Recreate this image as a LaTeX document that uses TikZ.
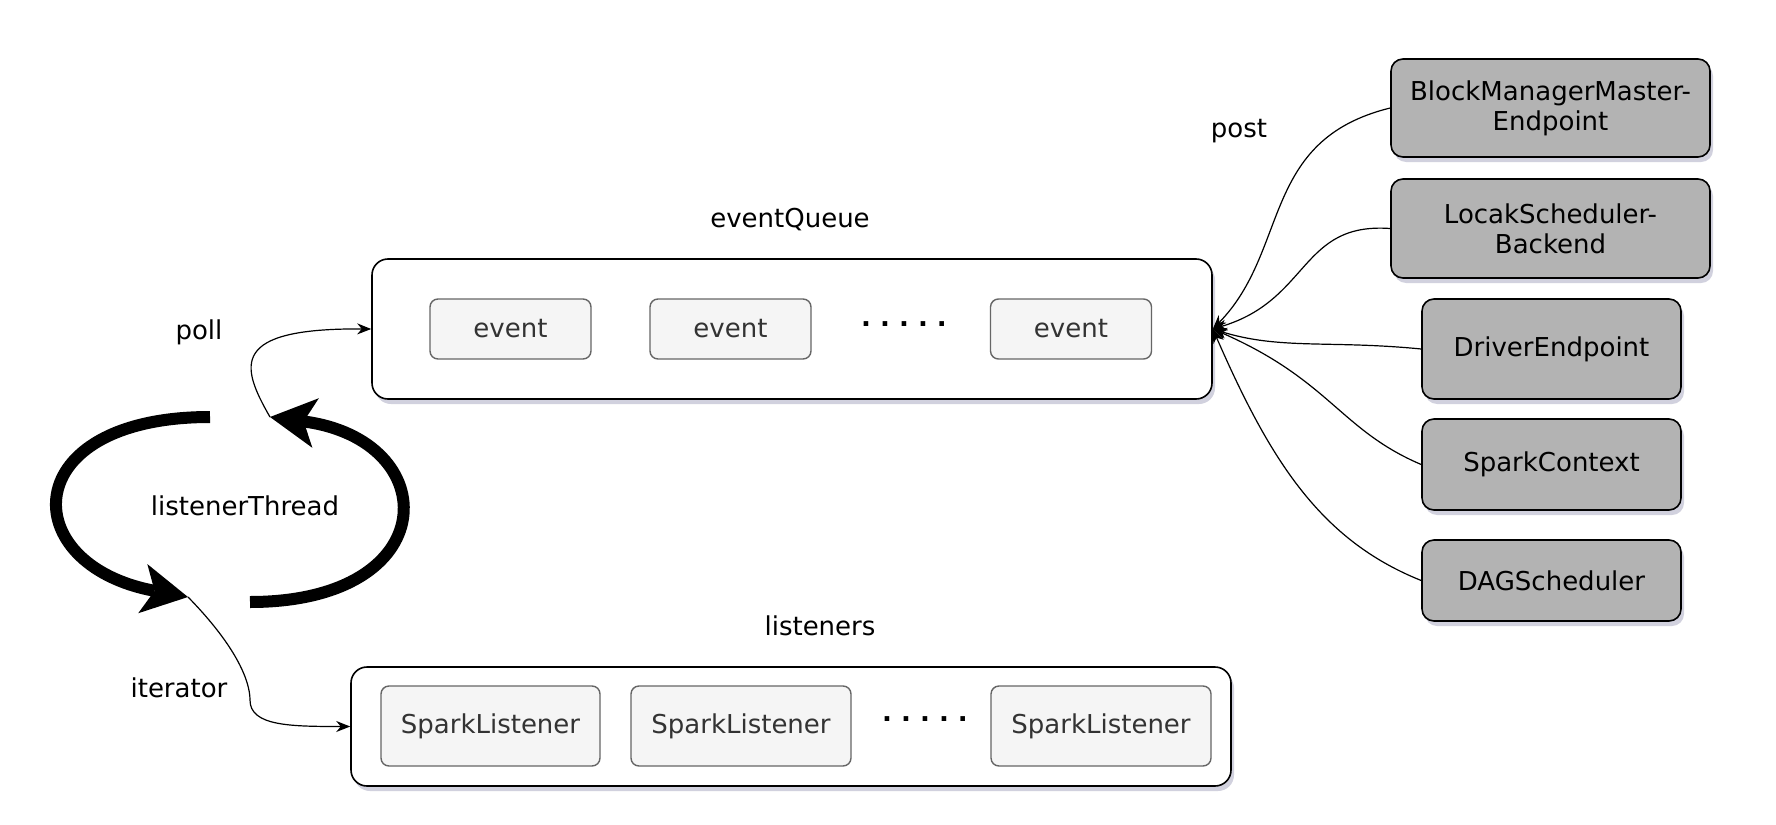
\documentclass[tikz,border=0pt]{standalone}
\usepackage{fontspec}
\setmainfont{DejaVu Sans}
\usetikzlibrary{arrows.meta,shadows}
\definecolor{srcgray}{HTML}{B3B3B3}
\definecolor{itemfill}{HTML}{F5F5F5}
\definecolor{itemline}{HTML}{666666}
\definecolor{itemtext}{HTML}{333333}
\tikzset{
  boxshadow/.style={drop shadow={shadow xshift=1.5pt,shadow yshift=-2.5pt,opacity=0.18,fill=black!70!blue}},
  queuebox/.style={draw=black,fill=white,line width=0.8pt,rounded corners=8pt,boxshadow},
  itembox/.style={draw=itemline,fill=itemfill,text=itemtext,line width=0.7pt,rounded corners=4pt},
  srcbox/.style={draw=black,fill=srcgray,line width=0.8pt,rounded corners=6pt,align=center,boxshadow},
  lbl/.style={font=\fontsize{13}{15}\selectfont},
  postline/.style={line width=0.6pt,-{Stealth[length=7pt,width=5.5pt]}},
  loopline/.style={line width=6pt,-{Stealth[length=23pt,width=25pt,inset=6pt,line width=0pt]}}
}
\begin{document}
\begin{tikzpicture}[x=0.5pt,y=-0.5pt,every node/.style={lbl,inner sep=0pt}]
				\useasboundingbox[fill=white] (0,0) rectangle (1776,824);
				
				\node[queuebox,minimum width=420pt,minimum height=70pt] (eq) at (792,329) {};
				\node (eqlbl) at (790,220) {eventQueue};
				\node[itembox,minimum width=80.5pt,minimum height=30pt] (ev1) at (510.5,329) {event};
				\node[itembox,minimum width=80.5pt,minimum height=30pt] (ev2) at (730.5,329) {event};
				\node (evdots) at (904,324) {\bfseries .\ .\ .\ .\ .};
				\node[itembox,minimum width=80.5pt,minimum height=30pt] (ev3) at (1071,329) {event};
				
				\node[queuebox,minimum width=440pt,minimum height=59.5pt] (ls) at (791,726.5) {};
				\node (lslbl) at (820,626) {listeners};
				\node[itembox,minimum width=109.5pt,minimum height=40pt] (sl1) at (490.5,726) {SparkListener};
				\node[itembox,minimum width=110pt,minimum height=40pt] (sl2) at (741,726) {SparkListener};
				\node (sldots) at (925,719) {\bfseries .\ .\ .\ .\ .};
				\node[itembox,minimum width=110pt,minimum height=40pt] (sl3) at (1101,726) {SparkListener};
				
				\node[srcbox,minimum width=159.5pt,minimum height=49pt] (bmm) at (1550.5,108) {BlockManagerMaster-\\Endpoint};
				\node[srcbox,minimum width=159.5pt,minimum height=49.5pt] (lsb) at (1550.5,228.5) {LocakScheduler-\\Backend};
				\node[srcbox,minimum width=129.5pt,minimum height=50pt] (drv) at (1551.5,349) {DriverEndpoint};
				\node[srcbox,minimum width=129.5pt,minimum height=45.5pt] (sc) at (1551.5,464.5) {SparkContext};
				\node[srcbox,minimum width=129.5pt,minimum height=40.5pt] (dag) at (1551.5,580.5) {DAGScheduler};
				\node (postlbl) at (1239,131) {post};
				
				\draw[postline] (bmm.west) .. controls (1260,140) and (1290,250) .. (eq.east);
				\draw[postline] (lsb.west) .. controls (1300,222) and (1310,300) .. (eq.east);
				\draw[postline] (drv.west) .. controls (1330,340) and (1280,350) .. (eq.east);
				\draw[postline] (sc.west) .. controls (1340,430) and (1330,380) .. (eq.east);
				\draw[postline] (dag.west) .. controls (1320,540) and (1270,460) .. (eq.east);
				
				\coordinate (loopR) at (270,417);
				\coordinate (loopL) at (188,597);
				\draw[loopline] (210,417) .. controls (15,417) and (15,565) .. (loopL);
				\draw[loopline] (250,602) .. controls (445,602) and (445,440) .. (loopR);
				\node (looplbl) at (245,506) {listenerThread};
				
				\draw[postline] (loopR) .. controls (240,365) and (230,328) .. (eq.west);
				\node (polllbl) at (199,332) {poll};
				\draw[postline] (loopL) .. controls (235,645) and (250,680) .. (250,700) .. controls (250,726) and (290,726.5) .. (ls.west);
				\node (itlbl) at (179,688) {iterator};
			\end{tikzpicture}
\end{document}
